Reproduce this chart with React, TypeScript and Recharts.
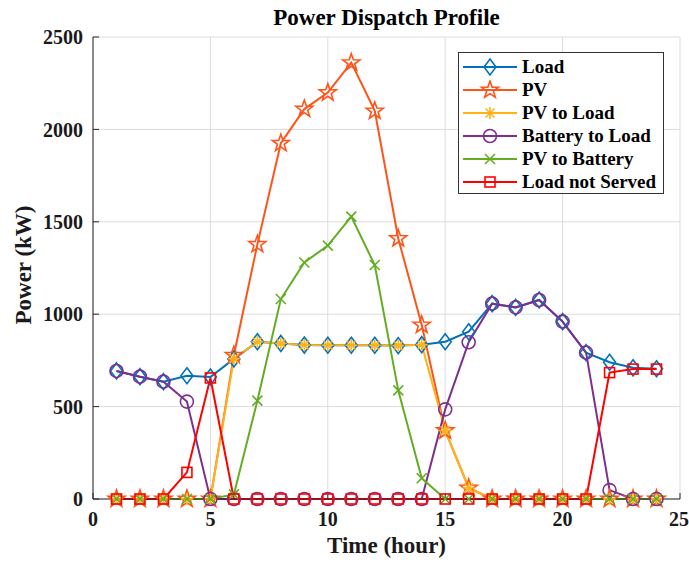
import React from "react";
import { LineChart, Line, XAxis, YAxis, CartesianGrid } from "recharts";

// --- data ---

const hours = [1, 2, 3, 4, 5, 6, 7, 8, 9, 10, 11, 12, 13, 14, 15, 16, 17, 18, 19, 20, 21, 22, 23, 24];

const load = [693, 662, 635, 667, 660, 758, 851, 842, 833, 832, 832, 832, 830, 835, 851, 905, 1057, 1037, 1077, 960, 792, 740, 710, 705];
const pv = [0, 0, 0, 0, 0, 778, 1378, 1925, 2110, 2199, 2361, 2100, 1410, 942, 370, 60, 0, 0, 0, 0, 0, 0, 0, 0];
const pvToLoad = [0, 0, 0, 0, 0, 760, 851, 842, 833, 832, 832, 832, 830, 835, 370, 60, 0, 0, 0, 0, 0, 0, 0, 0];
const batteryToLoad = [693, 662, 635, 527, 0, 0, 0, 0, 0, 0, 0, 0, 0, 0, 485, 848, 1057, 1037, 1077, 960, 792, 48, 0, 0];
const pvToBattery = [0, 0, 0, 0, 0, 25, 532, 1082, 1280, 1371, 1528, 1266, 588, 112, 0, 0, 0, 0, 0, 0, 0, 0, 0, 0];
const loadNotServed = [0, 0, 0, 144, 655, 0, 0, 0, 0, 0, 0, 0, 0, 0, 0, 0, 0, 0, 0, 0, 0, 684, 703, 703];

const xTicks = [0, 5, 10, 15, 20, 25];
const yTicks = [0, 500, 1000, 1500, 2000, 2500];

const data = hours.map((h, i) => ({
  hour: h,
  load: load[i],
  pv: pv[i],
  pvToLoad: pvToLoad[i],
  batteryToLoad: batteryToLoad[i],
  pvToBattery: pvToBattery[i],
  loadNotServed: loadNotServed[i],
}));

type MarkerKind = "diamond" | "star" | "asterisk" | "circle" | "cross" | "square";

interface SeriesDef {
  key: string;
  label: string;
  color: string;
  marker: MarkerKind;
}

const series: SeriesDef[] = [
  { key: "load", label: "Load", color: "#0072BD", marker: "diamond" },
  { key: "pv", label: "PV", color: "#FF5419", marker: "star" },
  { key: "pvToLoad", label: "PV to Load", color: "#FFB31A", marker: "asterisk" },
  { key: "batteryToLoad", label: "Battery to Load", color: "#7E2F8E", marker: "circle" },
  { key: "pvToBattery", label: "PV to Battery", color: "#62AD22", marker: "cross" },
  { key: "loadNotServed", label: "Load not Served", color: "#FF0000", marker: "square" },
];

const FONT = '"Liberation Serif", "Times New Roman", serif';

// --- marker shapes (MATLAB style) ---

const Marker: React.FC<{ kind: MarkerKind; cx: number; cy: number; color: string }> = ({
  kind,
  cx,
  cy,
  color,
}) => {
  const sw = 1.6;
  switch (kind) {
    case "diamond":
      return (
        <polygon
          points={`${cx},${cy - 8} ${cx + 6},${cy} ${cx},${cy + 8} ${cx - 6},${cy}`}
          fill="none"
          stroke={color}
          strokeWidth={sw}
        />
      );
    case "star": {
      const pts: string[] = [];
      for (let k = 0; k < 10; k++) {
        const r = k % 2 === 0 ? 9 : 3.6;
        const a = -Math.PI / 2 + (k * Math.PI) / 5;
        pts.push(`${cx + r * Math.cos(a)},${cy + r * Math.sin(a)}`);
      }
      return <polygon points={pts.join(" ")} fill="none" stroke={color} strokeWidth={sw} />;
    }
    case "asterisk":
      return (
        <g stroke={color} strokeWidth={sw}>
          <line x1={cx - 6} y1={cy} x2={cx + 6} y2={cy} />
          <line x1={cx} y1={cy - 6} x2={cx} y2={cy + 6} />
          <line x1={cx - 4.5} y1={cy - 4.5} x2={cx + 4.5} y2={cy + 4.5} />
          <line x1={cx - 4.5} y1={cy + 4.5} x2={cx + 4.5} y2={cy - 4.5} />
        </g>
      );
    case "circle":
      return <circle cx={cx} cy={cy} r={6.5} fill="none" stroke={color} strokeWidth={sw} />;
    case "cross":
      return (
        <g stroke={color} strokeWidth={sw}>
          <line x1={cx - 5} y1={cy - 5} x2={cx + 5} y2={cy + 5} />
          <line x1={cx - 5} y1={cy + 5} x2={cx + 5} y2={cy - 5} />
        </g>
      );
    case "square":
      return (
        <rect x={cx - 5} y={cy - 5} width={10} height={10} fill="none" stroke={color} strokeWidth={sw} />
      );
  }
  return null;
};

// --- legend (HTML overlay inside the axes) ---

const LegendBox: React.FC = () => (
  <div
    style={{
      position: "absolute",
      left: 458,
      top: 52,
      width: 206,
      height: 142,
      background: "#fff",
      border: "1px solid #333",
      padding: "2px 0",
      boxSizing: "border-box",
      fontFamily: FONT,
      fontWeight: "bold",
      fontSize: 19,
      color: "#000",
    }}
  >
    {series.map((s) => (
      <div key={s.key} style={{ display: "flex", alignItems: "center", height: 23 }}>
        <svg width={63} height={20} style={{ flex: "none" }}>
          <line x1={4} y1={10} x2={58} y2={10} stroke={s.color} strokeWidth={2} />
          <Marker kind={s.marker} cx={31} cy={10} color={s.color} />
        </svg>
        <span style={{ whiteSpace: "nowrap", lineHeight: "20px" }}>{s.label}</span>
      </div>
    ))}
  </div>
);

const axisTick = { fill: "#1a1a1a", fontSize: 20, fontWeight: "bold", fontFamily: FONT } as const;

const labelStyle: React.CSSProperties = {
  position: "absolute",
  fontFamily: FONT,
  fontWeight: "bold",
  fontSize: 23,
  color: "#1a1a1a",
  whiteSpace: "nowrap",
};

export default function App() {
  return (
    <div style={{ position: "absolute", left: 0, top: 0, width: 689, height: 563, background: "#fff" }}>
      <LineChart
        width={689}
        height={563}
        data={data}
        margin={{ top: 37, right: 9, bottom: 0, left: 0 }}
        style={{ position: "absolute", left: 0, top: 0 }}
      >
        <CartesianGrid stroke="#dcdcdc" strokeWidth={1} />
        <XAxis
          dataKey="hour"
          type="number"
          domain={[0, 25]}
          ticks={xTicks}
          height={64}
          tick={axisTick}
          tickSize={-6}
          tickMargin={19}
          stroke="#262626"
          allowDataOverflow
        />
        <XAxis
          xAxisId="top"
          orientation="top"
          dataKey="hour"
          type="number"
          domain={[0, 25]}
          ticks={xTicks}
          height={0}
          tick={false}
          tickSize={-6}
          stroke="#262626"
        />
        <YAxis
          type="number"
          domain={[0, 2500]}
          ticks={yTicks}
          width={93}
          tick={axisTick}
          tickSize={-6}
          tickMargin={16}
          stroke="#262626"
        />
        <YAxis
          yAxisId="right"
          orientation="right"
          type="number"
          domain={[0, 2500]}
          ticks={yTicks}
          width={0}
          tick={false}
          tickSize={-6}
          stroke="#262626"
        />
        {series.map((s) => (
          <Line
            key={s.key}
            type="linear"
            dataKey={s.key}
            name={s.label}
            stroke={s.color}
            strokeWidth={2}
            isAnimationActive={false}
            activeDot={false}
            dot={(p: any) => (
              <Marker key={`${s.key}-${p.index}`} kind={s.marker} cx={p.cx} cy={p.cy} color={s.color} />
            )}
          />
        ))}
      </LineChart>

      <div style={{ ...labelStyle, left: 93, width: 587, top: 5, textAlign: "center", color: "#000" }}>
        Power Dispatch Profile
      </div>
      <div style={{ ...labelStyle, left: 93, width: 587, top: 533, textAlign: "center" }}>
        Time (hour)
      </div>
      <div
        style={{
          ...labelStyle,
          left: 24,
          top: 265,
          transform: "translate(-50%, -50%) rotate(-90deg)",
        }}
      >
        Power (kW)
      </div>
      <LegendBox />
    </div>
  );
}
